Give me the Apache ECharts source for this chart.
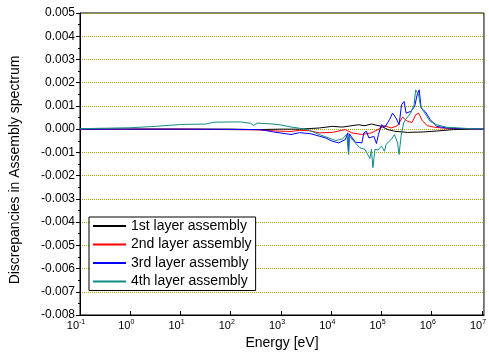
<!DOCTYPE html>
<html><head><meta charset="utf-8">
<script src="https://cdn.jsdelivr.net/npm/echarts@6/dist/echarts.min.js"></script>
<style>html,body{margin:0;padding:0;background:#fff}#c{width:489px;height:356px}</style>
</head><body><div id="c"></div>
<script>
// x values are log10(Energy / eV)
const seriesNames = ['1st layer assembly','2nd layer assembly','3rd layer assembly','4th layer assembly'];
const xTicks = [-1,0,1,2,3,4,5,6,7];

const l1x = [-1,0,1,2,2.5,3.0,3.37,3.76,4.02,4.22,4.54,4.67,4.80,5.0,5.13,5.26,5.52,5.84,6.10,6.43,6.8,7.04];
const l1y = [0,0,0,0,-0.00002,0,0,0.00005,0.00012,0.00009,0.00019,0.00015,0.00022,0.00012,-0.00002,-0.00009,-0.00014,-0.00012,-0.00008,-0.00002,0,0];

const l2x = [-1,0,1,2,2.5,2.9,3.2,3.37,3.57,3.76,4.02,4.28,4.41,4.61,4.80,4.93,5.06,5.19,5.32,5.42,5.52,5.61,5.68,5.74,5.81,5.91,6.04,6.23,6.6,7.04];
const l2y = [0,0,0,-0.00002,-0.00003,-0.00008,-0.0001,-0.00005,-0.00007,-0.00016,-0.00014,-0.00002,-0.00016,-0.00023,-0.00016,-0.00002,0.00015,0.00005,0.00015,0.00052,0.00033,0.00029,0.00062,0.00069,0.00038,0.00015,0.00009,0.00004,0.00002,0];

const l3x = [-1,0,1,2,2.6,2.85,3.2,3.37,3.6,3.76,3.89,4.02,4.15,4.28,4.33,4.345,4.36,4.38,4.48,4.61,4.65,4.70,4.75,4.85,4.90,4.94,5.0,5.07,5.16,5.22,5.29,5.35,5.40,5.45,5.49,5.58,5.66,5.71,5.75,5.79,5.87,5.97,6.10,6.30,6.7,7.04];
const l3y = [0,0,0,-0.00001,-0.00002,-0.00012,-0.00023,-0.00015,-0.0002,-0.0003,-0.00038,-0.00052,-0.00059,-0.00045,-0.00016,-0.00105,-0.0002,-0.00023,-0.00056,-0.00059,-0.00016,-0.00009,-0.00038,-0.00031,-0.00062,-0.00023,0.00019,0.00009,0.00041,0.00069,0.00048,0.00019,0.00105,0.00119,0.00069,0.00076,0.00097,0.00147,0.00169,0.0009,0.00076,0.00041,0.00012,0.00005,0.00002,0];

const l4x = [-1,-0.5,0,0.5,1.0,1.5,1.67,2.0,2.2,2.4,2.45,2.53,2.84,3.0,3.18,3.43,3.57,3.76,3.95,4.09,4.22,4.31,4.345,4.36,4.38,4.48,4.57,4.67,4.77,4.80,4.83,4.87,4.93,5.0,5.06,5.09,5.19,5.26,5.32,5.35,5.39,5.44,5.48,5.58,5.65,5.68,5.74,5.78,5.84,5.97,6.10,6.30,6.7,7.04];
const l4y = [0.00002,0.00004,0.00006,0.00012,0.0002,0.00022,0.0003,0.00031,0.00031,0.00025,0.00016,0.00026,0.00022,0.00018,0.0001,0.00002,-0.00005,-0.00023,-0.00038,-0.00049,-0.00042,-0.00023,-0.00109,-0.0003,-0.00025,-0.00059,-0.0008,-0.00087,-0.00126,-0.00087,-0.00166,-0.00087,-0.0009,-0.00073,-0.00095,-0.00066,-0.00045,-0.00023,-0.00059,-0.00109,-0.00031,0.00026,0.00041,0.00069,0.00105,0.00169,0.00147,0.00097,0.00076,0.00033,0.00019,0.00008,0.00003,0];

const colors = ['#000000','#ff0000','#0000ff','#108c88'];
const xs = [l1x,l2x,l3x,l4x], ys = [l1y,l2y,l3y,l4y];
const FONT = '"Liberation Sans", Arial, sans-serif';

const chart = echarts.init(document.getElementById('c'), null, {renderer:'canvas'});
chart.setOption({
  animation:false,
  backgroundColor:'#fff',
  grid:{left:76,right:1,top:13,bottom:41,show:true,borderColor:'#000',borderWidth:1,backgroundColor:'transparent'},
  xAxis:{type:'value',min:-1,max:7.04,interval:1,
    name:'Energy [eV]',nameLocation:'middle',nameGap:20,
    nameTextStyle:{fontFamily:FONT,fontSize:14,color:'#000'},
    axisLine:{show:true,onZero:false,lineStyle:{color:'#000',width:1}},
    axisTick:{show:true,inside:true,length:4,lineStyle:{color:'#000'}},
    splitLine:{show:false},
    axisLabel:{margin:4,showMaxLabel:false,
      formatter:function(v){ if (xTicks.indexOf(Math.round(v))<0) return ''; return '{b|10}{s|'+Math.round(v)+'}'; },
      rich:{b:{fontFamily:FONT,fontSize:11,color:'#000',padding:[0,0,0,0]},s:{fontFamily:FONT,fontSize:7,color:'#000',padding:[0,8,7,0]}}}
  },
  yAxis:{type:'value',min:-0.008,max:0.005,interval:0.001,
    name:'Discrepancies in Assembly spectrum',nameLocation:'middle',nameGap:58,
    nameTextStyle:{fontFamily:FONT,fontSize:14,color:'#000',padding:[0,12,0,0]},
    axisLine:{show:true,onZero:false,lineStyle:{color:'#000',width:1}},
    axisTick:{show:true,length:4,lineStyle:{color:'#000'}},
    minorTick:{show:true,splitNumber:2,length:2,lineStyle:{color:'#000'}},
    splitLine:{show:true,lineStyle:{color:'#a8a800',type:'dotted',width:1}},
    axisLabel:{margin:5,fontFamily:FONT,fontSize:12,color:'#000',formatter:function(v){return v.toFixed(3);}}
  },
  legend:{orient:'vertical',left:89,top:217,padding:[2,4,2,3],itemWidth:33,itemHeight:14,itemGap:4.5,
    borderColor:'#000',borderWidth:1,backgroundColor:'#fff',
    textStyle:{fontFamily:FONT,fontSize:14,color:'#000'},
    itemStyle:{color:'transparent',borderColor:'transparent',borderWidth:0,opacity:0},
    lineStyle:{width:2},
    data:seriesNames},
  series: seriesNames.map(function(n,i){
    return {name:n,type:'line',showSymbol:false,symbol:'none',color:colors[i],
      lineStyle:{width:1,color:colors[i]},
      data: xs[i].map(function(x,k){return [x, ys[i][k]];})};
  })
});
</script></body></html>
